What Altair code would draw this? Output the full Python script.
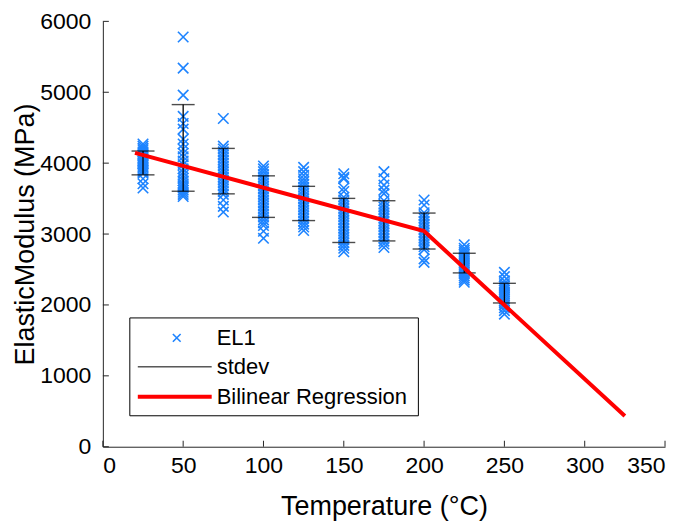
import altair as alt
import pandas as pd

# ---- data ----
temps = [25, 50, 75, 100, 125, 150, 175, 200, 225, 250]
g25 = [4270, 4240, 4210, 4190, 4160, 4130, 4110, 4080, 4050, 4030, 4010, 3990, 3970, 3950, 3930, 3900, 3880, 3860, 3780, 3710, 3650]
g50 = [5780, 5340, 4960, 4660, 4560, 4480, 4340, 4270, 4200, 4140, 4090, 4030, 3980, 3920, 3870, 3830, 3790, 3750, 3710, 3680, 3650, 3620, 3590, 3560, 3530]
g75 = [4630, 4240, 4200, 4160, 4120, 4080, 4040, 4000, 3960, 3920, 3880, 3840, 3800, 3760, 3720, 3680, 3640, 3600, 3560, 3480, 3390, 3310]
g100 = [3960, 3920, 3880, 3840, 3800, 3760, 3720, 3680, 3640, 3600, 3560, 3520, 3480, 3440, 3400, 3360, 3320, 3280, 3240, 3200, 3160, 3120, 3040, 2940]
g125 = [3940, 3880, 3830, 3780, 3740, 3700, 3660, 3620, 3580, 3540, 3500, 3460, 3420, 3380, 3340, 3300, 3260, 3220, 3180, 3140, 3100, 3050]
g150 = [3850, 3800, 3780, 3650, 3600, 3520, 3480, 3440, 3400, 3360, 3320, 3280, 3240, 3200, 3160, 3120, 3080, 3040, 3000, 2960, 2920, 2880, 2840, 2800, 2750]
g175 = [3880, 3780, 3690, 3620, 3570, 3470, 3420, 3380, 3340, 3300, 3260, 3220, 3180, 3140, 3100, 3060, 3020, 2980, 2940, 2900, 2860, 2810]
g200 = [3480, 3410, 3300, 3260, 3220, 3180, 3140, 3100, 3060, 3020, 2980, 2940, 2900, 2860, 2820, 2780, 2650, 2600]
g225 = [2850, 2800, 2770, 2740, 2710, 2680, 2650, 2620, 2590, 2560, 2530, 2500, 2470, 2440, 2410, 2380, 2350, 2320]
g250 = [2460, 2400, 2340, 2300, 2270, 2240, 2210, 2180, 2150, 2120, 2090, 2060, 2030, 2000, 1960, 1920, 1870]
groups = [g25, g50, g75, g100, g125, g150, g175, g200, g225, g250]

err_low = [3835, 3604, 3567, 3235, 3190, 2881, 2903, 2789, 2452, 2028]
err_high = [4171, 4826, 4208, 3821, 3673, 3503, 3470, 3296, 2729, 2305]

reg_T = [20, 200, 325]
reg_E = [4145, 3042, 434]

x_ticks = [0, 50, 100, 150, 200, 250, 300, 350]
y_ticks = [0, 1000, 2000, 3000, 4000, 5000, 6000]

legend_labels = ["EL1", "stdev", "Bilinear Regression"]

# ---- tables ----
pts = pd.DataFrame([(t, v) for t, g in zip(temps, groups) for v in g], columns=["T", "E"])
err = pd.DataFrame({"T": temps, "lo": err_low, "hi": err_high})
reg = pd.DataFrame({"T": reg_T, "E": reg_E})
xt = pd.DataFrame({"T": x_ticks})
yt = pd.DataFrame({"E": y_ticks})
one = pd.DataFrame({"k": [0]})

TOP = 13
W, H = 563, 447 - 8 - TOP
FONT = "Liberation Sans"
INK = "#262626"
BLUE = "#1E84FF"
XPATH = "M-1,-1L1,1M-1,1L1,-1"

xs = alt.Scale(domain=[0, 350], nice=False, zero=False)
ys = alt.Scale(domain=[0, 6000], nice=False, zero=False)

xax = alt.Axis(values=x_ticks, format="d", title="Temperature (°C)", labelPadding=8, titlePadding=16)
yax = alt.Axis(values=y_ticks, format="d", title="ElasticModulus (MPa)", labelPadding=12, titlePadding=0)


def X(field):
    return alt.X(field, type="quantitative", scale=xs, axis=xax)


def Y(field):
    return alt.Y(field, type="quantitative", scale=ys, axis=yax)


xtick_marks = alt.Chart(xt).mark_rule(color=INK, strokeWidth=1).encode(
    x=X("T"), y=alt.value(H), y2=alt.value(H - 6)
)
ytick_marks = alt.Chart(yt).mark_rule(color=INK, strokeWidth=1).encode(
    y=Y("E"), x=alt.value(0), x2=alt.value(6)
)

points = alt.Chart(pts).mark_point(shape=XPATH, size=110, strokeWidth=1.6, color=BLUE, filled=False, opacity=1).encode(
    x=X("T"), y=Y("E")
)

err_rule = alt.Chart(err).mark_rule(color="black", strokeWidth=1.3).encode(
    x=X("T"), y=Y("lo"), y2="hi:Q"
)
cap_lo = alt.Chart(err).mark_tick(color="black", size=23, thickness=1.4, orient="horizontal").encode(
    x=X("T"), y=Y("lo")
)
cap_hi = alt.Chart(err).mark_tick(color="black", size=23, thickness=1.4, orient="horizontal").encode(
    x=X("T"), y=Y("hi")
)

line = alt.Chart(reg).mark_line(color="#FF0000", strokeWidth=4).encode(
    x=X("T"), y=Y("E")
)

# ---- legend (pixel positions inside the plot area) ----
LFS = 22
OY = 13 - (8 + TOP)  # shift so legend keeps its page position
leg_box = alt.Chart(one).mark_rect(fill="white", stroke="black", strokeWidth=1).encode(
    x=alt.value(27), x2=alt.value(316), y=alt.value(305 + OY), y2=alt.value(403 + OY)
)
leg_pt = alt.Chart(one).mark_point(shape=XPATH, size=60, strokeWidth=1.6, color=BLUE, filled=False, opacity=1).encode(
    x=alt.value(74), y=alt.value(325 + OY)
)
leg_std = alt.Chart(one).mark_rule(color="black", strokeWidth=1).encode(
    x=alt.value(35), x2=alt.value(109), y=alt.value(354 + OY)
)
leg_reg = alt.Chart(one).mark_rule(color="#FF0000", strokeWidth=4).encode(
    x=alt.value(35), x2=alt.value(109), y=alt.value(384 + OY)
)
leg_txt = [
    alt.Chart(one).mark_text(text=t, align="left", baseline="middle", font=FONT, fontSize=LFS, color="black").encode(
        x=alt.value(114), y=alt.value(yy + OY)
    )
    for t, yy in zip(legend_labels, [325, 354, 384])
]

chart = alt.layer(
    xtick_marks, ytick_marks, points, err_rule, cap_lo, cap_hi, line,
    leg_box, leg_pt, leg_std, leg_reg, *leg_txt
).properties(
    width=W, height=H,
    autosize=alt.AutoSizeParams(type="none"),
    padding={"left": 95, "top": TOP, "right": 12, "bottom": 80},
).configure_view(stroke=None).configure_axis(
    grid=False, ticks=False, domainColor=INK, domainWidth=1,
    labelFont=FONT, labelFontSize=23, labelColor="black",
    titleFont=FONT, titleFontSize=27, titleFontWeight="normal", titleColor="black",
)

chart.save("out.html", embed_options={"renderer": "svg", "actions": False})
